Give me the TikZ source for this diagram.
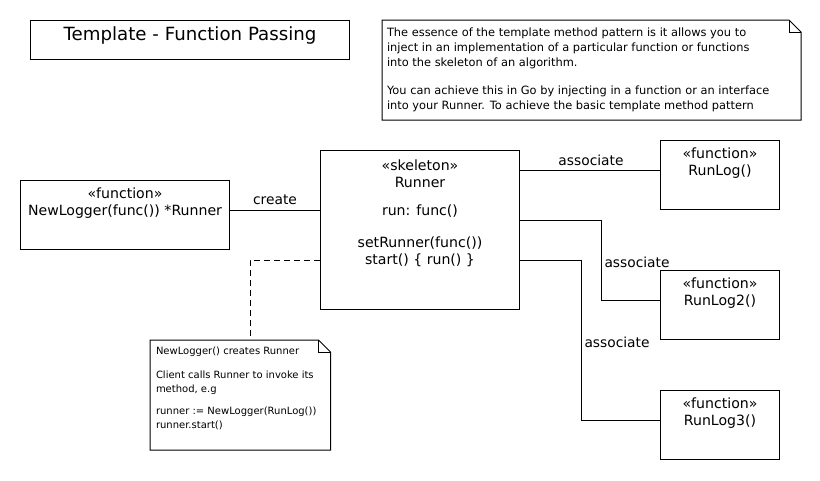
\documentclass[tikz,border=0pt]{standalone}
\usepackage{fontspec}
\setmainfont{DejaVu Sans}
\newcommand\mybx[4]{\begin{minipage}[c][#2][t]{#1}\vspace*{#3}\centering\strut#4\end{minipage}}
\newcommand\mynote[4]{\begin{minipage}[c][#2][t]{#1}\vspace*{#3}\raggedright\strut#4\end{minipage}}
\begin{document}
\begin{tikzpicture}[x=1pt,y=-1pt,line width=1pt,
  box/.style={draw,inner sep=0pt,anchor=north west,font=\fontsize{14.1}{16.5}\selectfont},
  notebox/.style={inner sep=0pt,anchor=north west},
  conn/.style={draw},
  lbl/.style={font=\fontsize{13.8}{16}\selectfont,inner sep=0pt,anchor=base},
  dashline/.style={draw,dash pattern=on 6pt off 4pt}]
\useasboundingbox[fill=white] (0,0) rectangle (820,480);

% title
\node[box,font=\fontsize{18.2}{21}\selectfont] (title) at (30,20)
  {\mybx{319pt}{39pt}{4.8pt}{Template - Function Passing}};

% top note
\node[notebox,font=\fontsize{11.4}{15}\selectfont] (note1) at (382,20)
  {\hspace*{4.5pt}\mynote{410pt}{99pt}{5.5pt}{\mbox{The essence of the template method pattern is it allows you to}\\
  \mbox{inject in an implementation of a particular function or functions}\\
  \mbox{into the skeleton of an algorithm.}\\[13pt]
  \mbox{You can achieve this in Go by injecting in a function or an interface}\\
  \mbox{into your Runner. To achieve the basic template method pattern}}\hspace*{3.5pt}};
\draw (note1.north west) -- ([xshift=-12pt]note1.north east) -- ([yshift=-12pt]note1.north east)
  -- (note1.south east) -- (note1.south west) -- cycle;
\draw ([xshift=-12pt]note1.north east) |- ([yshift=-12pt]note1.north east);

% NewLogger
\node[box] (nl) at (20,180)
  {\mybx{209pt}{69pt}{6.45pt}{«function»\\NewLogger(func()) *Runner}};

% Runner
\node[box] (runner) at (320,150)
  {\mybx{199pt}{159pt}{8.45pt}{«skeleton»\\Runner\\[12pt]run: func()\\[15.5pt]setRunner(func())\\start() \{ run() \}}};

% RunLogs
\node[box] (rl1) at (660,140) {\mybx{119pt}{69pt}{6.45pt}{«function»\\RunLog()}};
\node[box] (rl2) at (660,270) {\mybx{119pt}{69pt}{6.45pt}{«function»\\RunLog2()}};
\node[box] (rl3) at (660,390) {\mybx{119pt}{69pt}{6.45pt}{«function»\\RunLog3()}};

% lower note
\node[notebox,font=\fontsize{10}{14}\selectfont] (note2) at (150,340)
  {\hspace*{5.5pt}\mynote{170pt}{109pt}{4.2pt}{NewLogger() creates Runner\\[10pt]
  Client calls Runner to invoke its\\method, e.g\\[8pt]
  runner := NewLogger(RunLog())\\runner.start()}\hspace*{4pt}};
\draw (note2.north west) -- ([xshift=-12pt]note2.north east) -- ([yshift=-12pt]note2.north east)
  -- (note2.south east) -- (note2.south west) -- cycle;
\draw ([xshift=-12pt]note2.north east) |- ([yshift=-12pt]note2.north east);

% connectors
\draw[conn] ([yshift=4.5pt]nl.east) -- node[lbl,above=5pt] {create} ([yshift=4.5pt]nl.east -| runner.west);
\draw[conn] ([yshift=-20pt]runner.north east) -- node[lbl,above=4pt,xshift=1pt] {associate} ([yshift=-20pt]runner.north east -| rl1.west);
\coordinate (b2) at ([yshift=-70pt]runner.north east);
\coordinate (b3) at ([yshift=-110pt]runner.north east);
\draw[conn] (b2) -- ++(81,0) |- ([yshift=4.5pt]rl2.west);
\node[lbl,anchor=base west] (a2) at (604,267) {associate};
\draw[conn] (b3) -- ++(61,0) |- ([yshift=4.5pt]rl3.west);
\node[lbl,anchor=base west] (a3) at (584,347) {associate};
\draw[dashline] ([yshift=-110pt]runner.north west) -| ([xshift=100pt]note2.north west);
\end{tikzpicture}
\end{document}
